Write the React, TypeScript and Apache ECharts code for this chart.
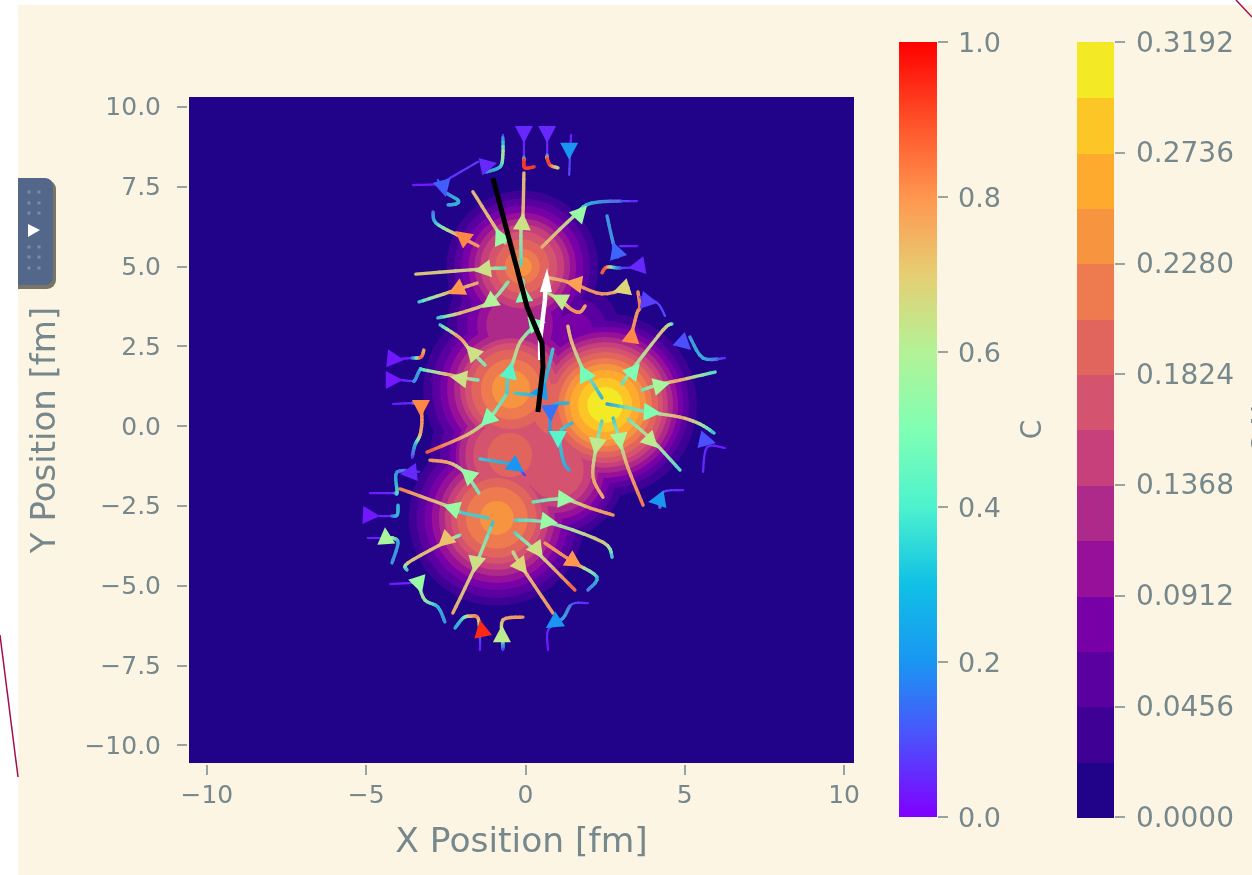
import React, { useEffect, useRef } from "react";
import * as echarts from "echarts";

const xTicks = [-10, -5, 0, 5, 10];
const yTicks = [-10, -7.5, -5, -2.5, 0, 2.5, 5, 7.5, 10];
const plotMin = -10.56;
const plotMax = 10.31;

// contour bands (width 0.0228 each)
const bandColors = ["#21038a", "#3f0096", "#5b00a0", "#7700a6", "#96109a", "#ae2a8a", "#c73f7b", "#d4536f", "#e1655d", "#ee7a50", "#f7943f", "#fdaa2e", "#fcc626", "#f3e925"];
const bandStep = 0.0228;

// [x, y, radii for band 1, 2, 3 ...]
const blobRight = [2.5, 0.66, 2.88, 2.63, 2.45, 2.29, 2.13, 1.97, 1.82, 1.66, 1.47, 1.29, 1.1, 0.85, 0.56];
const blobBottom = [-0.9, -2.88, 2.76, 2.51, 2.26, 2.04, 1.82, 1.63, 1.44, 1.25, 0.97, 0.53];
const blobMiddle = [-0.45, 1.15, 2.76, 2.48, 2.23, 2.01, 1.79, 1.6, 1.45, 1.25, 0.95, 0.6];
const blobTop = [-0.1, 5.0, 2.38, 2.13, 1.91, 1.69, 1.5, 1.32, 1.1, 0.85, 0.55, 0.3];
const saddleMidRight = [1.08, 0.5, 2.35, 2.13, 1.94, 1.76, 1.57, 1.38, 1.15, 0.85];
const saddleMidBottom = [-0.49, -0.91, 2.5, 2.19, 1.88, 1.7, 1.6, 1.4, 1.15, 0.7];
const saddleBottomRight = [0.93, -1.38, 2.2, 1.97, 1.75, 1.55, 1.35, 1.15, 0.9];
const saddleTopMid = [-0.33, 3.17, 2.13, 1.82, 1.5, 1.19, 0.9];
const saddleTopRight = [1.55, 3.0, 1.41, 1.0, 0.56];
const contourBlobs = [blobRight, blobBottom, blobMiddle, blobTop, saddleMidRight, saddleMidBottom, saddleBottomRight, saddleTopMid, saddleTopRight];

// rainbow colormap stops
const rainbowStops = ["#8000ff", "#4d4ffc", "#1a96f2", "#10c0e6", "#4df2ce", "#80ffb4", "#b3f296", "#e6ce73", "#ff964f", "#ff4f28", "#ff0000"];

// streamlines: [x, y, c] points
const streamlines = [
  [[-0.71,9.12,.03],[-0.71,8.5,.6],[-0.8,8.12,.35],[-1.24,7.96,.2]],
  [[-3.53,7.55,.03],[-2.68,7.59,.04],[-2.37,7.77,.06],[-1.49,8.28,.08]],
  [[-2.75,7.71,.1],[-2.53,7.34,.15],[-2.12,7.08,.3],[-2.18,6.96,.3],[-2.43,6.93,.25]],
  [[-1.65,7.34,.72],[-0.86,6.08,.7],[-0.64,5.74,.55]],
  [[-0.05,9.28,.03],[-0.05,8.43,.05],[-0.05,8.34,.95],[-0.02,8.09,.95],[0.27,8.12,.95]],
  [[-0.05,7.93,.72],[-0.08,6.61,.72],[-0.14,6.14,.6],[-0.14,5.05,.35]],
  [[-2.9,6.71,.1],[-2.81,6.36,.3],[-2.15,5.99,.75],[-1.49,5.64,.8]],
  [[-3.44,4.76,.7],[-1.37,4.92,.65],[-0.64,4.95,.4]],
  [[-3.34,3.89,.3],[-2.37,4.2,.75],[-1.52,4.48,.75]],
  [[-0.55,4.51,.45],[-1.11,3.89,.6],[-2.06,3.54,.75],[-2.75,3.39,.3]],
  [[-2.68,3.17,.3],[-2.06,2.76,.8],[-1.74,2.38,.65],[-1.27,1.91,.45]],
  [[-3.94,2.1,.03],[-3.56,2.13,.05],[-3.28,2.16,.9],[-3.19,2.38,.75]],
  [[-3.94,1.44,.03],[-3.56,1.41,.07],[-3.47,1.44,.2],[-3.31,1.76,.25],[-3.19,1.76,.4],[-2.37,1.6,.75],[-1.9,1.5,.7],[-1.49,1.44,.45]],
  [[-4.16,.69,.03],[-3.53,.72,.05],[-3.31,.72,.82],[-3.25,.19,.8],[-3.31,-.28,.75],[-3.47,-.6,.3],[-3.56,-1,.05]],
  [[-0.58,1.03,.4],[-0.86,.6,.45],[-1.18,.19,.55],[-1.84,-.28,.7],[-3.09,-.82,.92]],
  [[-0.58,1.03,.35],[-0.55,1.6,.38],[-0.39,2.01,.55],[-0.17,2.63,.65],[0.24,3.1,.4]],
  [[-0.33,1.03,.35],[0.24,.97,.3]],
  [[0.86,2.41,.35],[0.71,1.76,.3],[0.52,1.07,.25]],
  [[-0.05,3.95,.4],[-0.08,4.58,.45]],
  [[-3,-1.07,.8],[-2.37,-1.16,.75],[-1.9,-1.47,.55],[-1.46,-2.1,.45]],
  [[-1.43,-1.03,.35],[-0.39,-1.22,.25],[-0.02,-1.54,.05]],
  [[1.33,3.13,.7],[1.46,2.6,.72],[1.81,1.76,.55],[2.09,1.38,.4],[2.4,.88,.3]],
  [[4.6,3.2,.25],[4.32,3.01,.7],[3.34,1.76,.55],[3.03,1.32,.4]],
  [[3.66,1.13,.4],[4.16,1.29,.6],[4.85,1.44,.78],[5.95,1.69,.35]],
  [[2.56,.69,.2],[3.28,.56,.45],[3.81,.44,.45],[4.85,.28,.75],[5.48,.06,.6],[5.92,-.22,.3]],
  [[3.22,.22,.4],[3.97,-.44,.65],[4.85,-1.38,.35]],
  [[2.75,.25,.3],[2.97,-.5,.55],[3.22,-1.32,.75],[3.69,-2.48,.85]],
  [[2.4,.16,.35],[2.21,-.69,.55],[2.12,-1.6,.75],[2.43,-2.23,.75]],
  [[1.46,.09,.3],[1.08,-.22,.35],[1.18,-1.07,.3],[1.37,-1.38,.25]],
  [[1.33,.72,.3],[0.83,.6,.25],[0.77,-.22,.2]],
  [[5.16,2.79,.2],[5.57,2.13,.3],[6.26,2.13,.03]],
  [[6.26,-.69,.03],[5.7,-.66,.05],[5.57,-1.44,.05]],
  [[4.95,-2.01,.03],[4.32,-2.07,.1],[4.22,-2.54,.15]],
  [[0.24,-2.38,.4],[1.18,-2.29,.55],[2.03,-2.57,.75],[2.75,-2.79,.8]],
  [[-0.33,-2.95,.35],[0.77,-3.04,.5],[2.43,-3.64,.7],[2.72,-4.11,.3]],
  [[-0.33,-3.35,.35],[0.39,-3.98,.6],[1.55,-5.14,.9]],
  [[0.61,-3.67,.8],[1.49,-4.26,.8],[2.24,-4.73,.35],[1.96,-5.14,.15]],
  [[-0.39,-3.95,.6],[-0.11,-4.42,.7],[0.86,-5.86,.8]],
  [[-1.02,-3.01,.3],[-1.59,-4.42,.65],[-2.28,-5.86,.75]],
  [[-1.18,-2.88,.35],[-2.06,-2.7,.35],[-2.28,-2.57,.6],[-3.94,-1.97,.85]],
  [[-2.06,-3.42,.4],[-2.53,-3.64,.7],[-3.69,-4.29,.7],[-3.72,-4.51,.3]],
  [[-4.88,-2.1,.03],[-4.16,-2.1,.05],[-4.03,-2.07,.4],[-4.03,-1.44,.2],[-3.34,-1.44,.03]],
  [[-4.63,-2.82,.03],[-4.25,-2.82,.05],[-4.03,-2.79,.3],[-4,-2.48,.3]],
  [[-4.95,-3.51,.03],[-4.35,-3.51,.05],[-4.16,-3.51,.6],[-4,-3.67,.25],[-4.19,-4.29,.2]],
  [[-4.25,-4.95,.03],[-3.56,-4.92,.05],[-3.38,-4.95,.5],[-3.16,-5.45,.55],[-2.75,-5.67,.3],[-2.53,-6.14,.2]],
  [[-2.21,-6.33,.25],[-1.96,-6.02,.35],[-1.74,-5.96,.7],[-1.49,-6.02,.85],[-1.43,-6.61,.1],[-1.43,-7.02,.02]],
  [[-0.08,-5.99,.8],[-0.71,-6.08,.75],[-0.71,-6.71,.5],[-0.71,-7.02,.02]],
  [[1.96,-5.55,.03],[1.46,-5.58,.1],[1.18,-6.02,.25],[0.71,-6.39,.05],[0.71,-7.02,.02]],
  [[0.68,9.34,.03],[0.68,8.5,.05],[0.68,8.4,.9],[0.77,8.18,.95],[1.02,8.09,.6]],
  [[1.43,9.12,.03],[1.37,7.87,.1]],
  [[0.52,5.61,.75],[1.49,6.55,.6],[2.09,6.99,.25],[3.5,7.05,.03]],
  [[2.56,6.58,.2],[2.75,5.74,.2],[2.9,5.3,.12]],
  [[2.97,5.64,.06],[3.5,5.64,.03]],
  [[2.4,4.8,.9],[2.56,4.98,.9],[2.97,4.95,.1],[3.59,4.98,.03]],
  [[0.77,4.64,.7],[1.46,4.48,.8],[2.4,4.14,.8],[3.22,4.33,.7]],
  [[0.71,4.17,.6],[1.15,3.89,.65],[1.46,3.64,.8],[1.71,3.57,.8],[1.87,3.76,.75]],
  [[3.53,4.2,.8],[3.59,3.73,.85],[3.5,3.54,.8],[3.34,2.92,.8]],
  [[3.59,4.04,.1],[4.13,3.86,.08],[4.38,3.45,.1]],
];

// arrowheads: [tipX, tipY, towardsBaseX, towardsBaseY, c]
const arrowheads = [
  [-0.89,8.24,-1.43,8.12,.05],[-2.5,7.18,-2.62,7.65,.12],[-0.93,6.21,-0.71,5.74,.55],[-0.05,8.87,-0.05,9.34,.05],
  [-0.08,6.68,-0.11,6.21,.65],[-2.21,6.11,-1.81,5.8,.82],[-1.62,4.86,-1.21,4.92,.65],[-2.43,4.14,-1.9,4.39,.8],
  [-1.37,3.7,-1.02,3.95,.6],[-1.87,2.54,-1.55,2.19,.65],[-3.81,2.07,-4.41,2.13,.03],[-2.37,1.54,-1.9,1.47,.65],
  [-3.85,1.44,-4.41,1.44,.03],[-3.28,.28,-3.28,.75,.82],[-1.4,0,-1.05,.34,.5],[-0.42,2.01,-0.52,1.6,.42],
  [0.14,1.03,.55,1.07,.22],[-0.08,4.42,-0.05,4.08,.5],[0.64,3.26,.33,3.2,.5],[-2.03,-1.32,-1.65,-1.66,.55],
  [-0.05,-1.44,-0.49,-1.13,.2],[1.71,1.91,1.93,1.5,.48],[3.59,1.97,3.28,1.6,.5],[4.54,1.35,4.13,1.25,.58],
  [4.25,.41,3.81,.44,.5],[4.16,-.69,3.81,-.34,.62],[3,-.75,2.94,-.34,.58],[2.18,-.91,2.24,-.56,.62],
  [1.02,-.69,1.02,-.22,.42],[.8,.13,.77,.6,.15],[5.2,2.38,4.85,2.7,.1],[5.98,-.53,5.57,-.44,.1],
  [3.85,-2.38,4.22,-2.32,.2],[1.55,-2.32,1.15,-2.29,.55],[1.02,-3.04,.61,-2.98,.55],[.55,-4.14,.3,-3.79,.65],
  [1.77,-4.42,1.33,-4.14,.8],[.05,-4.64,-.24,-4.26,.68],[-1.62,-4.61,-1.55,-4.26,.65],[-2.59,-2.48,-2.12,-2.63,.55],
  [-2.75,-3.79,-2.37,-3.45,.72],[-3.94,-1.5,-3.38,-1.44,.05],[-4.57,-2.82,-5.13,-2.79,.03],[-4.41,-3.17,-4.38,-3.54,.58],
  [-3.25,-5.24,-3.38,-4.83,.55],[-1.43,-6.08,-1.33,-6.58,.95],[-.74,-6.24,-.74,-6.71,.62],[.64,-6.33,1.02,-6.08,.2],
  [.68,8.87,.68,9.34,.05],[1.37,8.34,1.37,8.75,.2],[1.93,6.9,1.52,6.46,.55],[2.75,5.77,2.9,5.33,.13],
  [3.22,4.95,3.63,5.02,.05],[1.24,4.51,1.65,4.45,.78],[2.75,4.2,3.25,4.36,.68],[.8,4.11,1.24,3.89,.62],
  [3.38,3.13,3.31,2.7,.82],[4.16,3.86,3.66,3.95,.08],
];

const blackTrack = [[-1.02,7.77],[0.05,3.73],[0.52,2.6],[0.55,1.85],[0.39,0.44]];
const whiteTrack = [[0.46,2.07],[0.46,2.7],[0.61,3.95],[0.64,4.6]];
const whiteHead = [[0.68,4.95,0.64,4.2]];

const textColor = "#76888c";
const font = "DejaVu Sans";

function hexRgb(h: string) {
  return [1, 3, 5].map((i) => parseInt(h.slice(i, i + 2), 16));
}
function rainbowRgb(c: number) {
  const t = Math.max(0, Math.min(1, c)) * (rainbowStops.length - 1);
  const i = Math.min(rainbowStops.length - 2, Math.floor(t));
  const a = hexRgb(rainbowStops[i]);
  const b = hexRgb(rainbowStops[i + 1]);
  const f = t - i;
  return a.map((v, k) => Math.round(v + (b[k] - v) * f));
}
function rainbow(c: number) {
  return `rgb(${rainbowRgb(c).join(",")})`;
}
// the thin lines read a little muted and pinker than the colour bar in the reference
function muted(c: number) {
  if (c < 0.12) return rainbow(c);
  const tint = [190, 130, 150];
  return `rgb(${rainbowRgb(c).map((v, k) => Math.round(v * 0.78 + tint[k] * 0.22)).join(",")})`;
}

const contourData: number[][] = [];
for (let band = 1; band < bandColors.length; band++) {
  contourBlobs.forEach((b) => {
    const r = b[band + 1];
    if (r) contourData.push([b[0], b[1], r, band]);
  });
}
const bandData = bandColors.map((_, i) => [i * bandStep, (i + 1) * bandStep, i]);

export default function App() {
  const ref = useRef<HTMLDivElement>(null);
  useEffect(() => {
    document.body.style.margin = "0";
    const chart = echarts.init(ref.current!, null, { renderer: "svg" });
    const G = echarts.graphic as any;
    const axisBase = {
      axisLine: { show: false, onZero: false },
      splitLine: { show: false },
      axisTick: { show: true, length: 10, lineStyle: { color: textColor, width: 1.5 } },
    };
    const labelBase = { color: textColor, fontFamily: font };
    const nameBase = { color: textColor, fontFamily: font };
    const dots: any[] = [];
    [29, 39].forEach((x) =>
      [192, 203, 213, 247, 257, 268].forEach((y) =>
        dots.push({ type: "rect", shape: { x: x - 1.5, y: y - 1.5, width: 3, height: 3 }, style: { fill: "#7b8ca8" } })
      )
    );
    chart.setOption({
      animation: false,
      backgroundColor: "#ffffff",
      textStyle: { fontFamily: font },
      graphic: [
        { type: "rect", shape: { x: 18, y: 5, width: 1234, height: 870 }, style: { fill: "#fcf5e4" } },
        { type: "line", shape: { x1: 0, y1: 635, x2: 18, y2: 777 }, style: { stroke: "#a01050", lineWidth: 1.5 } },
        { type: "line", shape: { x1: 1236, y1: 0, x2: 1252, y2: 17 }, style: { stroke: "#a01050", lineWidth: 1.5 } },
        { type: "rect", shape: { x: 18, y: 180, width: 38, height: 109, r: [0, 9, 9, 0] }, style: { fill: "#7a7466" } },
        { type: "rect", shape: { x: 18, y: 178, width: 35, height: 107, r: [0, 8, 8, 0] }, style: { fill: "#52678a" } },
        ...dots,
        { type: "polygon", shape: { points: [[28, 224], [40, 230], [28, 237]] }, style: { fill: "#ffffff" } },
      ],
      grid: [
        { left: 189, top: 97, width: 665, height: 666, outerBoundsMode: "none" },
        { left: 899, top: 42, width: 38, height: 775, outerBoundsMode: "none" },
        { left: 1077, top: 42, width: 37, height: 775, outerBoundsMode: "none" },
      ],
      xAxis: [
        {
          ...axisBase,
          type: "value",
          gridIndex: 0,
          min: plotMin,
          max: plotMax,
          offset: 2,
          axisTick: { ...axisBase.axisTick, customValues: xTicks },
          axisLabel: {
            ...labelBase,
            fontSize: 25,
            margin: 17,
            customValues: xTicks,
            formatter: (v: number) => String(v).replace("-", "\u2212"),
          },
          name: "X Position [fm]",
          nameLocation: "middle",
          nameGap: 57,
          nameMoveOverlap: false,
          nameTextStyle: { ...nameBase, fontSize: 34.5 },
        },
        { type: "value", gridIndex: 1, min: 0, max: 1, show: false },
        { type: "value", gridIndex: 2, min: 0, max: 1, show: false },
      ],
      yAxis: [
        {
          ...axisBase,
          type: "value",
          gridIndex: 0,
          min: plotMin,
          max: plotMax,
          offset: 2,
          axisTick: { ...axisBase.axisTick, customValues: yTicks },
          axisLabel: {
            ...labelBase,
            fontSize: 25,
            margin: 26,
            customValues: yTicks,
            formatter: (v: number) => v.toFixed(1).replace("-", "\u2212"),
          },
          name: "Y Position [fm]",
          nameLocation: "middle",
          nameGap: 127,
          nameRotate: 90,
          nameMoveOverlap: false,
          nameTextStyle: { ...nameBase, fontSize: 34 },
        },
        {
          ...axisBase,
          type: "value",
          gridIndex: 1,
          position: "right",
          min: 0,
          max: 1,
          interval: 0.2,
          offset: 1,
          axisLabel: { ...labelBase, fontSize: 27, margin: 20, formatter: (v: number) => v.toFixed(1) },
          name: "C",
          nameLocation: "middle",
          nameGap: 79,
          nameRotate: 90,
          nameMoveOverlap: false,
          nameTextStyle: { ...nameBase, fontSize: 28 },
        },
        {
          ...axisBase,
          type: "value",
          gridIndex: 2,
          position: "right",
          min: 0,
          max: 0.3192,
          interval: 0.0456,
          offset: 1,
          axisLabel: { ...labelBase, fontSize: 28, margin: 21, formatter: (v: number) => v.toFixed(4) },
          name: "C N",
          nameLocation: "middle",
          nameGap: 133,
          nameRotate: 90,
          nameMoveOverlap: false,
          nameTextStyle: { ...nameBase, fontSize: 28 },
        },
      ],
      series: [
        {
          type: "custom",
          xAxisIndex: 0,
          yAxisIndex: 0,
          silent: true,
          data: [[plotMin, plotMin, plotMax, plotMax]],
          encode: { x: [0, 2], y: [1, 3] },
          renderItem: (_: any, api: any) => {
            const a = api.coord([api.value(0), api.value(1)]);
            const b = api.coord([api.value(2), api.value(3)]);
            return {
              type: "rect",
              shape: { x: a[0], y: b[1], width: b[0] - a[0], height: a[1] - b[1] },
              style: { fill: bandColors[0] },
            };
          },
        },
        {
          type: "custom",
          xAxisIndex: 0,
          yAxisIndex: 0,
          silent: true,
          data: contourData,
          encode: { x: 0, y: 1 },
          renderItem: (_: any, api: any) => {
            const c = api.coord([api.value(0), api.value(1)]);
            const r = api.size([api.value(2), 0])[0];
            return { type: "circle", shape: { cx: c[0], cy: c[1], r }, style: { fill: bandColors[api.value(3)] } };
          },
        },
        {
          type: "custom",
          xAxisIndex: 0,
          yAxisIndex: 0,
          silent: true,
          data: streamlines.map((s, i) => [s[0][0], s[0][1], i]),
          encode: { x: 0, y: 1 },
          renderItem: (_: any, api: any) => {
            const pts = streamlines[api.value(2)];
            const px = pts.map((p) => api.coord([p[0], p[1]]));
            const children: any[] = [];
            const steps = 5;
            for (let i = 0; i + 1 < px.length; i++) {
              const p0 = px[Math.max(0, i - 1)];
              const p1 = px[i];
              const p2 = px[i + 1];
              const p3 = px[Math.min(px.length - 1, i + 2)];
              let prev = p1;
              for (let s = 1; s <= steps; s++) {
                const t = s / steps;
                const q = [0, 1].map(
                  (k) =>
                    0.5 *
                    (2 * p1[k] +
                      (p2[k] - p0[k]) * t +
                      (2 * p0[k] - 5 * p1[k] + 4 * p2[k] - p3[k]) * t * t +
                      (3 * p1[k] - p0[k] - 3 * p2[k] + p3[k]) * t * t * t)
                );
                const c = pts[i][2] + (pts[i + 1][2] - pts[i][2]) * (t - 0.5 / steps);
                children.push({
                  type: "line",
                  shape: { x1: prev[0], y1: prev[1], x2: q[0], y2: q[1] },
                  style: { stroke: muted(c), lineWidth: c < 0.12 ? 2.2 : 3.4, lineCap: "round", fill: null },
                });
                prev = q;
              }
            }
            return { type: "group", children };
          },
        },
        {
          type: "custom",
          xAxisIndex: 0,
          yAxisIndex: 0,
          silent: true,
          data: arrowheads,
          encode: { x: 0, y: 1 },
          renderItem: (_: any, api: any) => {
            const t = api.coord([api.value(0), api.value(1)]);
            const b = api.coord([api.value(2), api.value(3)]);
            const dx = t[0] - b[0];
            const dy = t[1] - b[1];
            const d = Math.hypot(dx, dy) || 1;
            const ux = dx / d;
            const uy = dy / d;
            const L = 17;
            const W = 9;
            const bx = t[0] - ux * L;
            const by = t[1] - uy * L;
            return {
              type: "polygon",
              shape: { points: [t, [bx - uy * W, by + ux * W], [bx + uy * W, by - ux * W]] },
              style: { fill: rainbow(api.value(4)) },
            };
          },
        },
        {
          type: "line",
          xAxisIndex: 0,
          yAxisIndex: 0,
          silent: true,
          data: whiteTrack,
          showSymbol: false,
          lineStyle: { color: "#ffffff", width: 4.5 },
          z: 3,
        },
        {
          type: "custom",
          xAxisIndex: 0,
          yAxisIndex: 0,
          silent: true,
          z: 3,
          data: whiteHead,
          encode: { x: 0, y: 1 },
          renderItem: (_: any, api: any) => {
            const t = api.coord([api.value(0), api.value(1)]);
            const b = api.coord([api.value(2), api.value(3)]);
            return {
              type: "polygon",
              shape: { points: [t, [b[0] - 6, b[1]], [b[0] + 6, b[1]]] },
              style: { fill: "#ffffff" },
            };
          },
        },
        {
          type: "line",
          xAxisIndex: 0,
          yAxisIndex: 0,
          silent: true,
          data: blackTrack,
          showSymbol: false,
          lineStyle: { color: "#000000", width: 5 },
          z: 4,
        },
        {
          type: "custom",
          xAxisIndex: 1,
          yAxisIndex: 1,
          silent: true,
          data: [[0, 0]],
          encode: { x: 0, y: 1 },
          renderItem: (_: any, api: any) => {
            const a = api.coord([0, 0]);
            const b = api.coord([1, 1]);
            return {
              type: "rect",
              shape: { x: a[0], y: b[1], width: b[0] - a[0], height: a[1] - b[1] },
              style: {
                fill: new G.LinearGradient(0, 1, 0, 0, rainbowStops.map((color, i) => ({ offset: i / (rainbowStops.length - 1), color }))),
              },
            };
          },
        },
        {
          type: "custom",
          xAxisIndex: 2,
          yAxisIndex: 2,
          silent: true,
          data: bandData,
          encode: { y: [0, 1] },
          renderItem: (_: any, api: any) => {
            const a = api.coord([0, api.value(0)]);
            const b = api.coord([1, api.value(1)]);
            const top = Math.round(b[1]);
            return {
              type: "rect",
              shape: { x: a[0], y: top, width: b[0] - a[0], height: Math.round(a[1]) - top + 1 },
              style: { fill: bandColors[api.value(2)] },
            };
          },
        },
      ],
    });
    return () => chart.dispose();
  }, []);
  return (
    <div
      ref={ref}
      style={{ position: "fixed", left: 0, top: 0, width: 1252, height: 875, filter: "blur(0.6px)" }}
    />
  );
}
